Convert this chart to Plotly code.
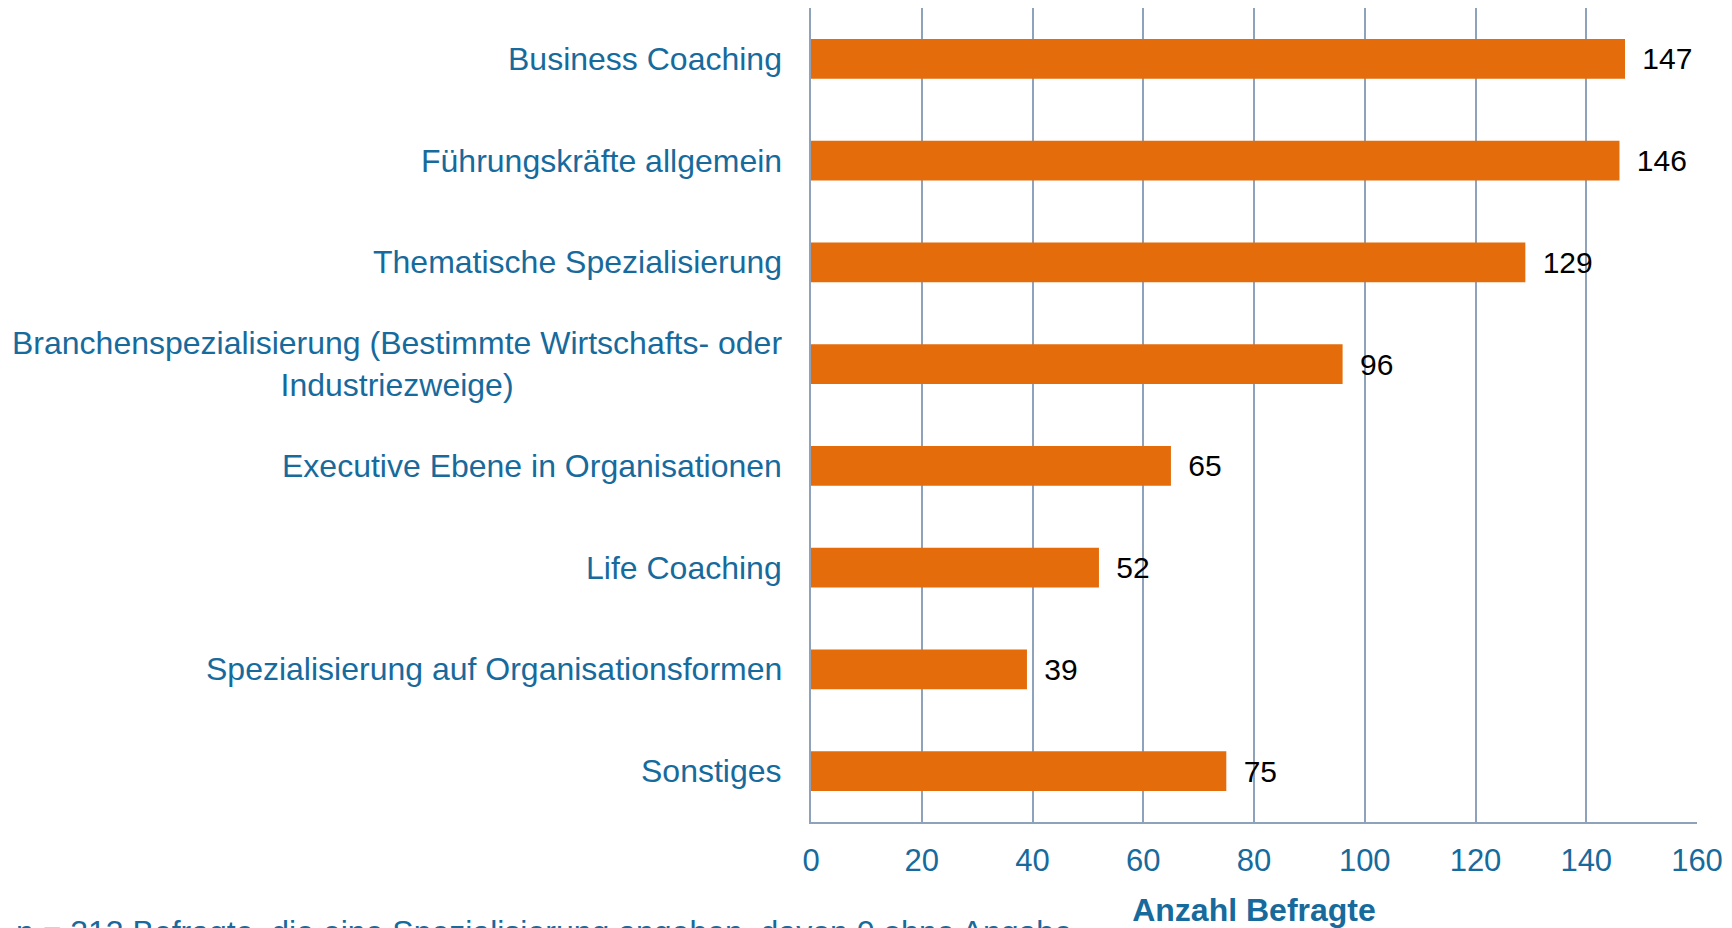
import plotly.graph_objects as go

categories = [
    "Business Coaching",
    "Führungskräfte allgemein",
    "Thematische Spezialisierung",
    "Branchenspezialisierung (Bestimmte Wirtschafts- oder<br>Industriezweige)",
    "Executive Ebene in Organisationen",
    "Life Coaching",
    "Spezialisierung auf Organisationsformen",
    "Sonstiges",
]
values = [147, 146, 129, 96, 65, 52, 39, 75]
x_ticks = [0, 20, 40, 60, 80, 100, 120, 140, 160]
x_title = "Anzahl Befragte"
footnote = "n = 313 Befragte, die eine Spezialisierung angeben, davon 0 ohne Angabe"

BLUE = "#176A9C"
ORANGE = "#E46C0A"
GRID = "#8FA2BC"
FONT = "Liberation Sans, Arial"

fig = go.Figure()
fig.add_trace(go.Bar(
    x=values,
    y=categories,
    orientation="h",
    marker=dict(color=ORANGE, line=dict(width=0)),
    texttemplate=" \u2009%{x}",
    textposition="outside",
    textfont=dict(family=FONT, size=30, color="#000000"),
    cliponaxis=False,
    width=0.39,
))

for c in categories:
    fig.add_annotation(
        x=0, xref="paper", y=c, yref="y",
        text=c, showarrow=False,
        xanchor="right", xshift=-27, align="center",
        font=dict(family=FONT, size=32, color=BLUE),
    )

fig.add_annotation(
    x=0, xref="paper", y=0, yref="paper",
    xanchor="left", yanchor="top", xshift=-797, yshift=-90,
    text=footnote, showarrow=False,
    font=dict(family=FONT, size=32, color=BLUE),
)

fig.update_layout(
    width=1724, height=920,
    margin=dict(l=803, r=35, t=0, b=106),
    plot_bgcolor="white", paper_bgcolor="white",
    showlegend=False,
    bargap=0.61,
    font=dict(family=FONT, color=BLUE),
)
fig.update_xaxes(
    range=[0, 160],
    tickvals=x_ticks,
    showgrid=True, gridcolor=GRID, gridwidth=1.5,
    showline=True, linecolor=GRID, linewidth=2,
    zeroline=False,
    ticks="", ticklabelstandoff=10,
    tickfont=dict(family=FONT, size=31, color=BLUE),
    title=dict(text="<b>" + x_title + "</b>", standoff=24,
               font=dict(family=FONT, size=32, color=BLUE)),
)
fig.update_yaxes(
    autorange="reversed",
    showticklabels=False,
    showgrid=False,
    showline=True, linecolor=GRID, linewidth=2,
    ticks="",
)

fig.write_html("out.html")
